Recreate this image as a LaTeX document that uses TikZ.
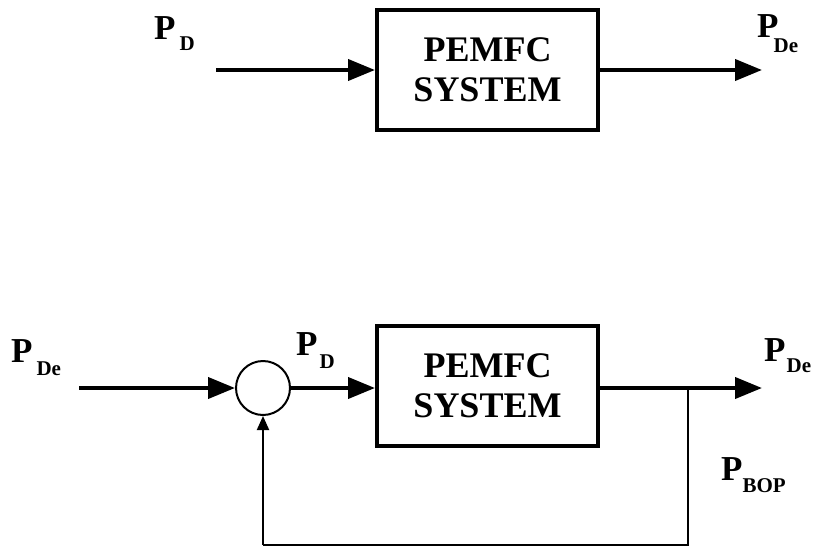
\documentclass[tikz,border=0pt]{standalone}
\usepackage{fontspec}
\setmainfont{Liberation Serif}
\usetikzlibrary{arrows.meta}
\newcommand{\subtxt}[3]{\kern#1\raisebox{-#2}{\fontsize{21}{22}\selectfont\bfseries #3}}
\begin{document}
\begin{tikzpicture}[x=1pt,y=-1pt,
  blk/.style={draw,line width=4pt,minimum width=221pt,minimum height=120pt,inner sep=0pt,align=center,
    font=\fontsize{36}{40}\selectfont\bfseries},
  sumnode/.style={draw,circle,line width=2pt,minimum size=54pt,inner sep=0pt},
  bigarrow/.style={line width=4pt,-{Triangle[length=27pt,width=21pt]}},
  fb/.style={line width=2pt},
  fbarrow/.style={line width=2pt,-{Triangle[length=14pt,width=12pt]}},
  lbl/.style={inner sep=0pt,anchor=base west,font=\fontsize{35}{40}\selectfont\bfseries}]
\useasboundingbox (0,0) rectangle (813,546);
% top
\node[blk] (box1) at (487.5,70) {PEMFC\\SYSTEM};
\coordinate (in1) at (216,70);
\coordinate (out1) at (762,70);
\draw[bigarrow] (in1) -- (box1.west);
\draw[bigarrow] (box1.east) -- (out1);
\node[lbl] (pd1) at (154,39) {P\subtxt{4pt}{11pt}{D}};
\node[lbl] (pde1) at (757,37) {P\subtxt{-5pt}{15pt}{De}};
% bottom
\node[blk] (box2) at (487.5,385.5) {PEMFC\\SYSTEM};
\node[sumnode] (sum) at (263,388) {};
\coordinate (in2) at (79,388);
\coordinate (out2) at (762,388);
\coordinate (br) at (688,388);
\coordinate (c1) at (688,545);
\coordinate (c2) at (263,545);
\draw[bigarrow] (in2) -- (sum.west);
\draw[bigarrow] (sum.east) -- (box2.west |- sum.east);
\draw[bigarrow] (box2.east |- out2) -- (out2);
\draw[fb] (br) -- (c1) -- (c2);
\draw[fbarrow] (c2) -- (sum.south);
\node[lbl] (pde2) at (11,362) {P\subtxt{4pt}{13pt}{De}};
\node[lbl] (pd2) at (296,355) {P\subtxt{2pt}{13pt}{D}};
\node[lbl] (pde3) at (764,361) {P\subtxt{1pt}{11pt}{De}};
\node[lbl] (pbop) at (721,480) {P\subtxt{0pt}{12pt}{BOP}};
\end{tikzpicture}
\end{document}
